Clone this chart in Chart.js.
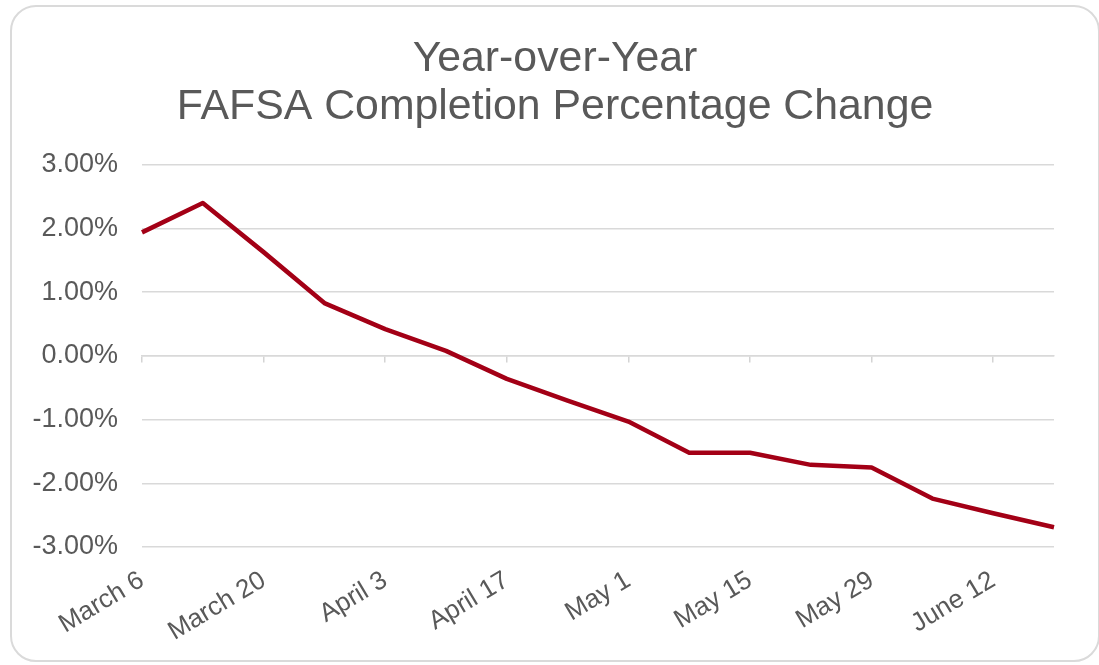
<!DOCTYPE html>
<html>
<head>
<meta charset="utf-8">
<script src="https://cdn.jsdelivr.net/npm/chart.js@4/dist/chart.umd.min.js"></script>
<style>
  html, body { margin: 0; padding: 0; background: #fff; }
  body { width: 1099px; height: 665px; position: relative; overflow: hidden; }
  #card {
    position: absolute; left: 10px; top: 5px; width: 1086px; height: 653px;
    border: 2px solid #dadada; border-radius: 26px; background: #fff;
  }
  #wrap { position: absolute; left: 0; top: 0; width: 1099px; height: 665px; }
</style>
</head>
<body>
<div id="card"></div>
<div id="wrap"><canvas id="yoyChart"></canvas></div>
<script>
// weekly dates, a label is shown every other week
var weeks = ['March 6', 'March 13', 'March 20', 'March 27', 'April 3', 'April 10',
             'April 17', 'April 24', 'May 1', 'May 8', 'May 15', 'May 22',
             'May 29', 'June 5', 'June 12', 'June 19'];
// year-over-year change in FAFSA completions, percent
var pctChange = [1.94, 2.40, 1.63, 0.83, 0.42, 0.08, -0.36, -0.70,
                 -1.03, -1.52, -1.52, -1.71, -1.75, -2.24, -2.47, -2.69];
var yTicks = [3, 2, 1, 0, -1, -2, -3];

var fontFam = '"Liberation Sans", Arial, Helvetica, sans-serif';
var grey = '#595959';

function everyOther(value, index){
   return index % 2 === 0 ? weeks[index] : null;
}

function getData(){
   return {
      labels: weeks,
      datasets: [{
         label: 'YoY change',
         data: pctChange,
         borderColor: '#A30016',
         borderWidth: 4.5,
         borderJoinStyle: 'round',
         pointRadius: 0,
         fill: false,
         tension: 0
      }]
   };
}

function getOptions(){
   return {
      responsive: false,
      animation: false,
      // box runs a bit past the right edge so the title centre sits at ~555px,
      // the empty right axis brings the plot back to its place
      layout: { padding: { top: 0, left: 0, right: -11, bottom: 0 } },
      plugins: {
         legend: { display: false },
         tooltip: { enabled: false },
         title: {
            display: true,
            text: ['Year-over-Year', 'FAFSA Completion Percentage Change'],
            color: grey,
            font: { family: fontFam, size: 42.8, weight: 'normal', lineHeight: 1.12 },
            padding: { top: 35, bottom: 34 }
         }
      },
      scales: {
         x: {
            type: 'category',
            offset: false,
            grid: { display: false, drawTicks: false },
            border: { display: false },
            ticks: {
               autoSkip: false,
               maxRotation: 31,
               minRotation: 31,
               padding: 18,
               color: grey,
               font: { family: fontFam, size: 26 },
               callback: everyOther
            },
            afterFit: function(scale){ scale.height = 118; }
         },
         x2: {
            type: 'category',
            offset: false,
            position: { y: 0 },
            grid: { drawOnChartArea: false, drawTicks: true, tickLength: 6, color: '#d4d4d4', lineWidth: 1.5 },
            border: { display: true, color: '#d9d9d9', width: 1.5 },
            ticks: { autoSkip: false, display: false, callback: everyOther }
         },
         y: {
            min: -3,
            max: 3,
            afterBuildTicks: function(scale){
               scale.ticks = yTicks.map(function(v){ return { value: v }; });
            },
            grid: { color: '#d9d9d9', lineWidth: 1.5, drawTicks: false },
            border: { display: false },
            ticks: {
               padding: 24,
               color: grey,
               font: { family: fontFam, size: 27 },
               callback: function(v){ return v.toFixed(2) + '%'; }
            },
            afterFit: function(scale){ scale.width = 142; }
         },
         yRight: {
            position: 'right',
            min: -3,
            max: 3,
            grid: { display: false, drawTicks: false },
            border: { display: false },
            ticks: { display: false },
            afterFit: function(scale){ scale.width = 56; }
         }
      }
   };
}

var canvas = document.getElementById('yoyChart');
canvas.width = 1099;
canvas.height = 665;
var myYoYChart = new Chart(canvas, {
   type: 'line',
   data: getData(),
   options: getOptions()
});
</script>
</body>
</html>
